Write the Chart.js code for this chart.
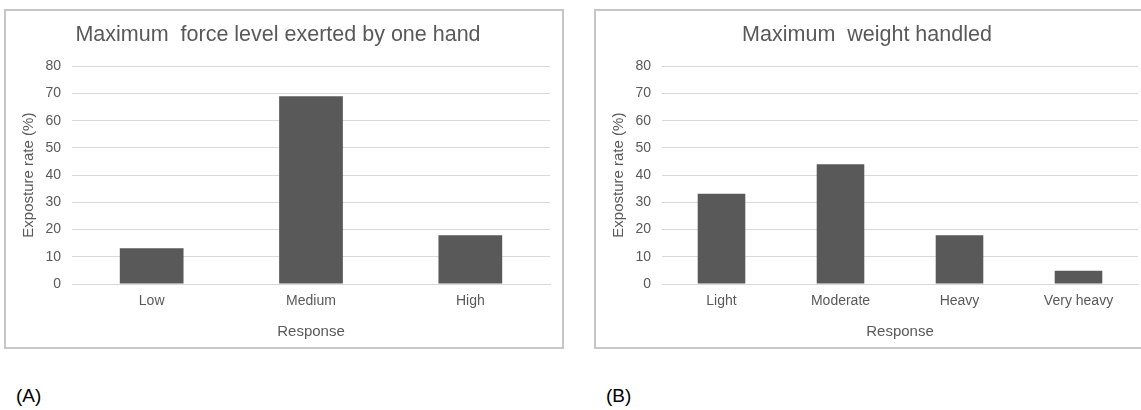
<!DOCTYPE html>
<html>
<head>
<title>Exposure rate charts</title>
<script src="https://cdn.jsdelivr.net/npm/chart.js"></script>
<style>
body { margin: 0; background: #fff; overflow: hidden; width: 1141px; height: 410px; position: relative; }
.box { position: absolute; top: 9px; height: 336px; border: 2px solid #c6c6c6; background: #fff; }
.box canvas { display: block; }
.tag { position: absolute; top: 385px; font-family: "Liberation Sans", Arial, sans-serif; font-size: 19px; color: #000; }
</style>
</head>
<body>

<div class="box" style="left:4px; width:556px;"><canvas id="chartA" width="556" height="336"></canvas></div>
<div class="box" style="left:594px; width:554px;"><canvas id="chartB" width="554" height="336"></canvas></div>
<div class="tag" style="left:16px;">(A)</div>
<div class="tag" style="left:606px;">(B)</div>

<script>
// panel A
var titleA = 'Maximum  force level exerted by one hand';
var labelsA = ['Low', 'Medium', 'High'];
var valuesA = [13.1, 69.0, 17.9];

// panel B
var titleB = 'Maximum  weight handled';
var labelsB = ['Light', 'Moderate', 'Heavy', 'Very heavy'];
var valuesB = [33.2, 44.0, 17.9, 4.9];

var yTitle = 'Exposture rate (%)';
var xTitle = 'Response';

var grey = '#595959';
var FONT = '"Liberation Sans", Arial, sans-serif';

function makeChart(id, title, labels, values) {
  return new Chart(document.getElementById(id), {
    type: 'bar',
    data: {
      labels: labels,
      datasets: [{
        data: values,
        backgroundColor: grey,
        borderWidth: 0,
        categoryPercentage: 1.0,
        barPercentage: 0.4
      }]
    },
    options: {
      responsive: false,
      animation: false,
      devicePixelRatio: 1,
      layout: { padding: { left: 0, right: 12, top: 0, bottom: 0 } },
      plugins: {
        legend: { display: false },
        tooltip: { enabled: false },
        title: {
          display: true,
          text: title,
          color: grey,
          font: { family: FONT, size: 21.5, weight: 'normal' },
          padding: { top: 11, bottom: 18.5 }
        }
      },
      scales: {
        x: {
          grid: { display: false, drawTicks: false },
          border: { display: true, color: '#d9d9d9', width: 1 },
          ticks: { color: grey, font: { family: FONT, size: 14 }, padding: 9 },
          title: {
            display: true, text: xTitle, color: grey,
            font: { family: FONT, size: 15 }, padding: { top: 0, bottom: 6 }
          },
          afterFit: function (s) { s.height = 63; }
        },
        y: {
          min: 0, max: 80,
          ticks: { stepSize: 10, color: grey, font: { family: FONT, size: 14 }, padding: 11 },
          grid: { color: '#d9d9d9', lineWidth: 1, drawTicks: false },
          border: { display: false },
          title: {
            display: true, text: yTitle, color: grey,
            font: { family: FONT, size: 15 }, padding: { top: 14, bottom: 0 }
          },
          afterFit: function (s) { s.width = 66; }
        }
      }
    }
  });
}

makeChart('chartA', titleA, labelsA, valuesA);
makeChart('chartB', titleB, labelsB, valuesB);
</script>
</body>
</html>
